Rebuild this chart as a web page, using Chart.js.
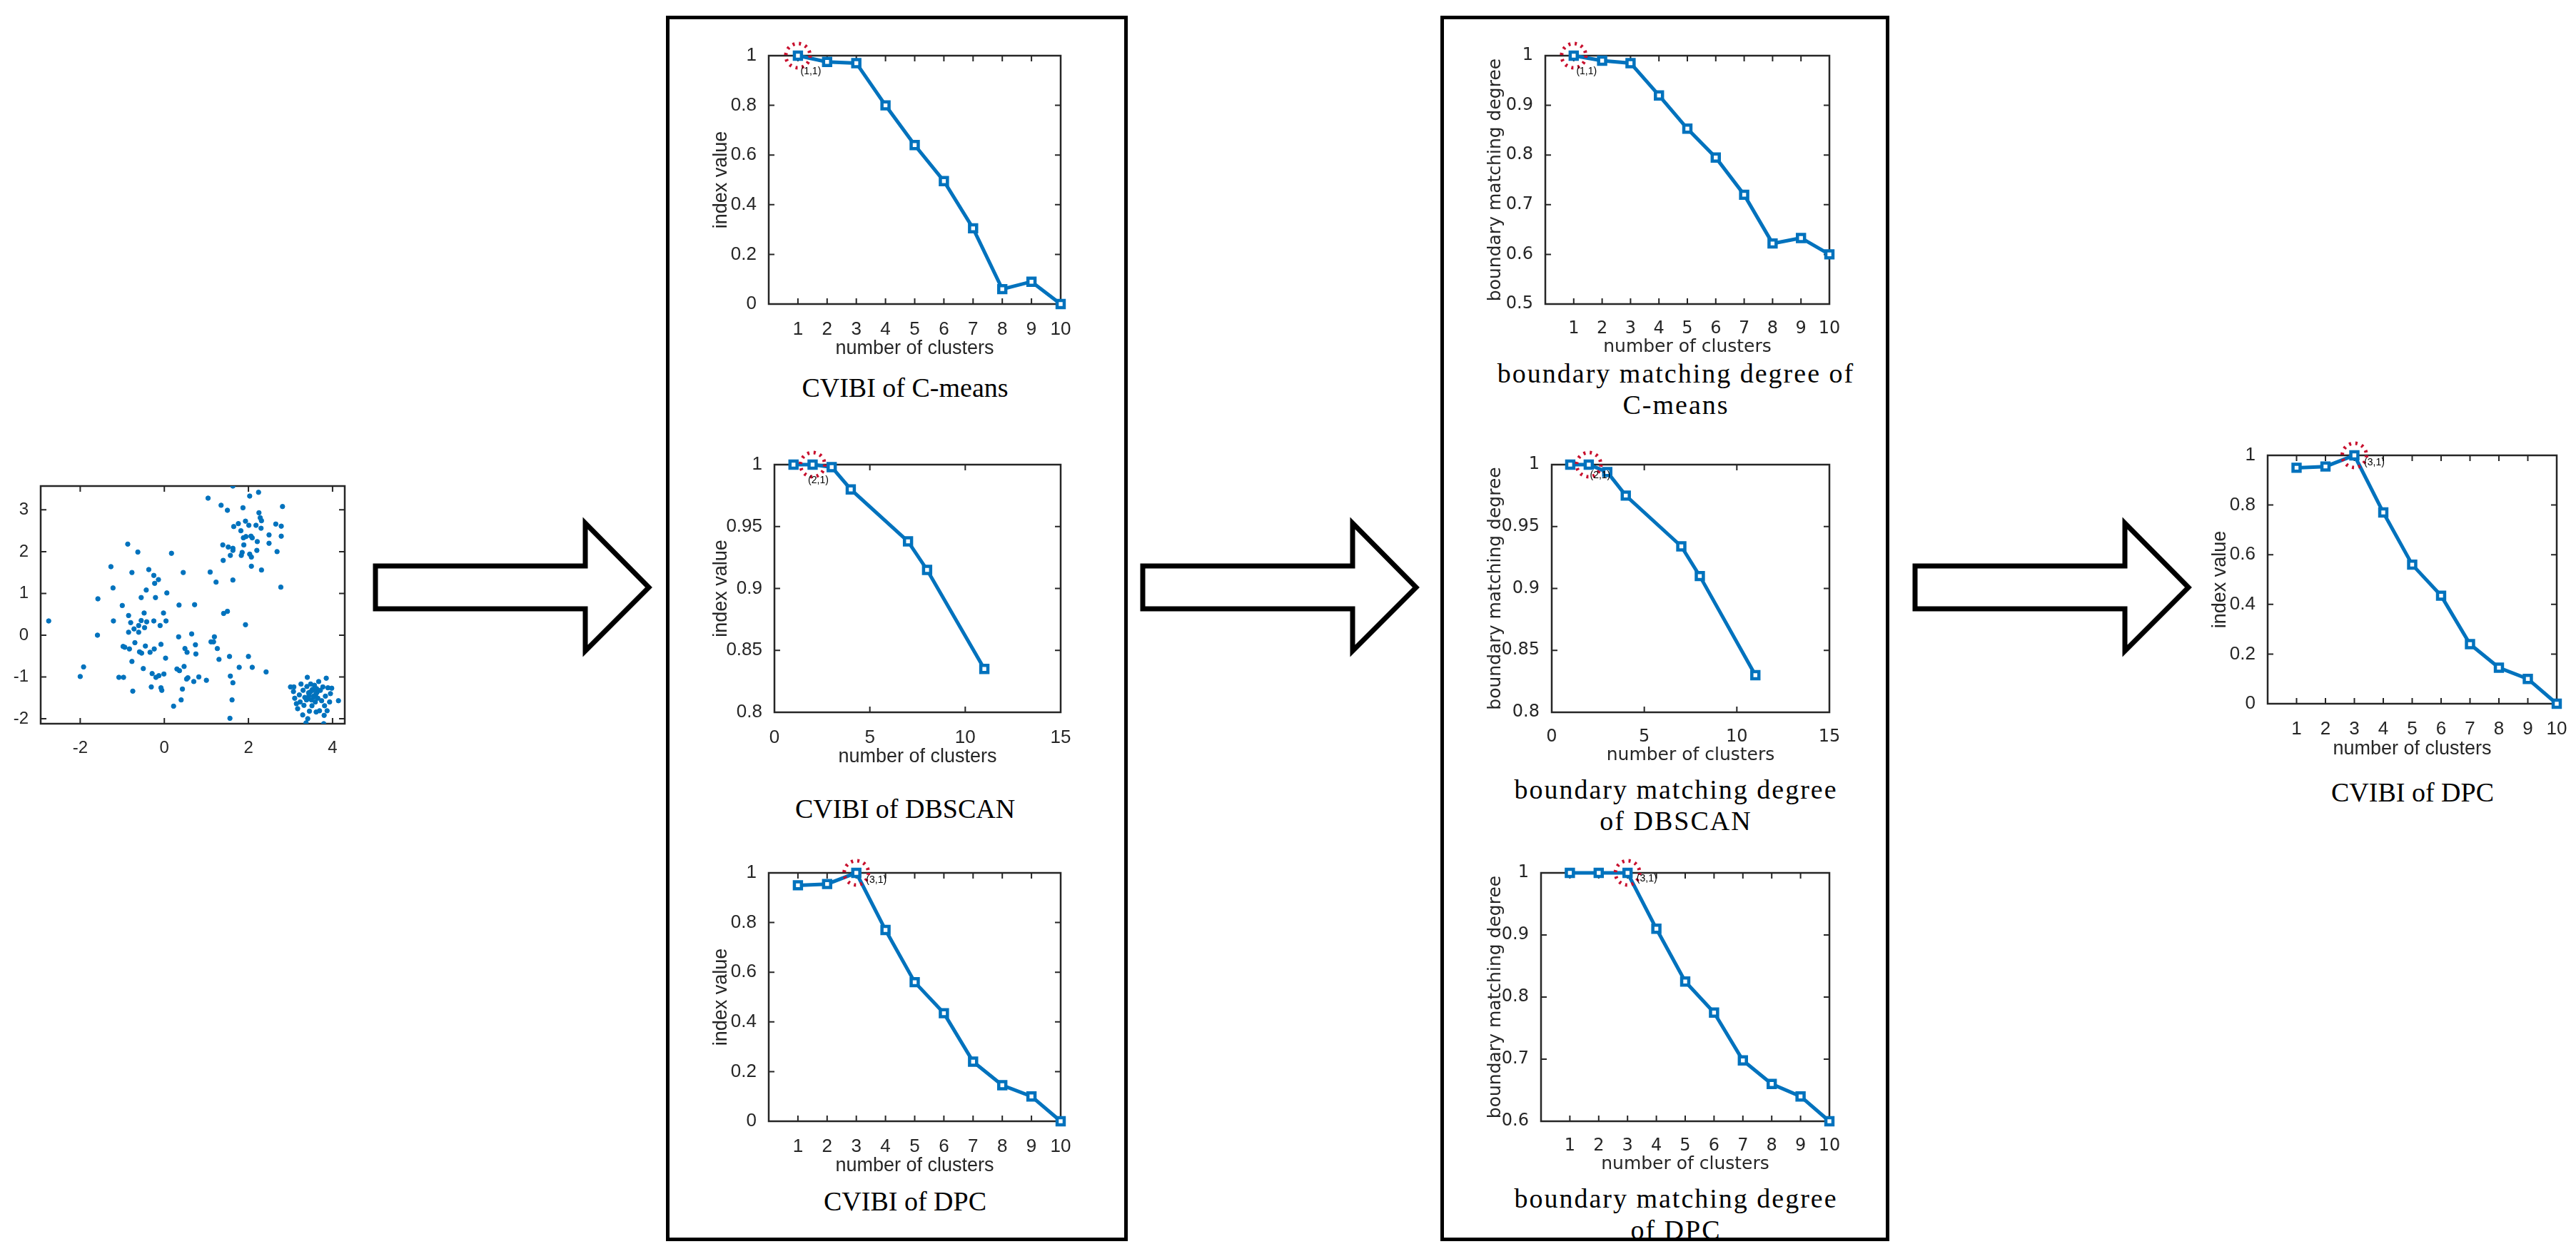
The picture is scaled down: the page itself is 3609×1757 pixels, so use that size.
<!DOCTYPE html>
<html><head><meta charset="utf-8">
<script src="https://cdn.jsdelivr.net/npm/chart.js@4.4.0/dist/chart.umd.min.js"></script>
<style>
  body { margin:0; width:3609px; height:1757px; background:#fff; position:relative; overflow:hidden; }
  canvas { position:absolute; }
  .box { position:absolute; border:5px solid #000; box-sizing:border-box; }
  .cap { position:absolute; transform:translate(-50%,-50%); font-family:"Liberation Serif",serif; font-size:38px; color:#000; white-space:nowrap; text-align:center; line-height:44px; }
  .cap.wide { letter-spacing:2px; }
  svg { position:absolute; left:0; top:0; }
</style></head>
<body>
<div class="box" style="left:933px;top:22px;width:647px;height:1717px"></div>
<div class="box" style="left:2018px;top:22px;width:629px;height:1717px"></div>
<svg width="3609" height="1757" id="arrows"></svg>
<div class="cap" style="left:1268px;top:543px">CVIBI of C-means</div>
<div class="cap" style="left:1268px;top:1133px">CVIBI of DBSCAN</div>
<div class="cap" style="left:1268px;top:1683px">CVIBI of DPC</div>
<div class="cap wide" style="left:2348px;top:545px">boundary matching degree of<br>C-means</div>
<div class="cap wide" style="left:2348px;top:1128px">boundary matching degree<br>of DBSCAN</div>
<div class="cap wide" style="left:2348px;top:1701px">boundary matching degree<br>of DPC</div>
<div class="cap" style="left:3380px;top:1110px">CVIBI of DPC</div>
<script>
// ---- data ----
const clusters10 = [1, 2, 3, 4, 5, 6, 7, 8, 9, 10];
const dbscanClusters = [1, 2, 3, 4, 7, 8, 11];
const cvibiCmeans = [1, 0.975, 0.97, 0.80, 0.64, 0.495, 0.305, 0.06, 0.09, 0];
const cvibiDbscan = [1, 1, 0.998, 0.98, 0.938, 0.915, 0.835];
const cvibiDpc = [0.95, 0.955, 1, 0.77, 0.56, 0.435, 0.24, 0.145, 0.10, 0];
const bmdCmeans = [1, 0.99, 0.985, 0.92, 0.853, 0.795, 0.72, 0.622, 0.633, 0.6];
const bmdDbscan = [1, 1, 0.994, 0.975, 0.934, 0.91, 0.83];
const bmdDpc = [1, 1, 1, 0.91, 0.825, 0.775, 0.698, 0.66, 0.64, 0.6];
const scatterX = [-2.75,-2,-1.92,-1.59,-1.58,-1.27,-1.22,-1.21,-1.08,-0.97,-1,-0.98,-0.94,-0.87,-0.85,-0.85,-0.83,-0.8,-0.77,-0.77,-0.75,-0.72,-0.7,
  -0.63,-0.61,-0.61,-0.59,-0.55,-0.55,-0.54,-0.5,-0.48,-0.47,-0.45,-0.43,-0.42,-0.37,-0.34,-0.31,-0.29,-0.25,-0.25,-0.24,-0.23,-0.21,-0.2,
  -0.14,-0.13,-0.1,-0.08,-0.08,-0.06,-0.02,-0.01,0.03,0.04,0.06,0.17,0.22,0.3,0.34,0.35,0.36,0.4,0.43,0.45,0.47,0.49,0.53,0.54,0.56,
  0.65,0.7,0.72,0.74,0.75,0.82,1,1.04,1.09,1.11,1.17,1.19,1.23,1.26,1.3,1.35,1.39,1.4,1.41,1.5,1.5,1.52,1.55,1.56,1.57,1.57,
  1.61,1.63,1.63,1.63,1.65,1.63,1.63,1.76,1.78,1.82,1.83,1.85,1.87,1.88,1.89,1.93,1.93,1.94,2,2.01,2.03,2.03,2.06,2.07,2.07,2.09,2.09,
  2.18,2.2,2.21,2.24,2.25,2.28,2.3,2.31,2.31,2.42,2.49,2.49,2.65,2.68,2.77,2.78,2.78,2.81,
  3,3.07,3.08,3.1,3.14,3.17,3.21,3.23,3.25,3.29,3.3,3.32,3.34,3.37,3.39,3.4,3.41,3.43,3.45,3.48,3.5,3.51,3.53,3.55,3.57,3.59,3.61,3.63,
  3.65,3.67,3.69,3.71,3.74,3.77,3.79,3.8,3.81,3.83,3.85,3.87,3.89,3.93,3.95,3.98,4.14,3.44,3.52,3.6,3.38,3.47,3.56,3.62,3.42];
const scatterY = [0.34,-0.99,-0.76,0,0.87,1.64,1.13,0.34,-1.01,-1.01,0.71,-0.27,-0.29,2.18,0.47,0.07,-0.33,0.3,1.5,-0.63,-1.34,0.15,-0.18,
  1.99,0.23,0.07,-0.4,0.9,0.35,-0.43,-0.8,0.53,0.18,-0.26,1.08,0.32,1.57,-0.41,-1.24,-0.92,1.43,0.34,-0.33,1.24,0.9,-1.01,
  1.33,-0.97,0.23,-0.22,-1.26,-1.32,0.53,-0.93,-0.55,0.34,1.01,1.96,-1.7,-0.81,-0.04,0.72,-0.85,-1.55,-1.29,1.5,-0.75,-0.32,-1.05,-0.41,-1.02,
  0.03,-1.11,0.73,-0.23,-0.45,-1,-1.08,3.28,1.51,-0.16,-0.16,-0.04,1.27,-0.32,-0.58,3.11,2.16,1.79,0.52,2.99,0.57,2.11,-0.51,-1.99,1.91,-0.98,
  -1.55,3.57,1.32,-1.14,2.6,2.08,2.03,2.67,-0.77,2.5,1.91,1.98,3.05,2.33,2.16,2.73,0.25,2.36,-0.51,2.63,3.33,1.94,2.37,1.87,1.65,-0.77,2.33,
  2.63,2.03,2.24,3.42,2.93,2.81,2.56,2.74,1.56,-0.88,2.4,2.2,2.66,2,1.15,2.61,2.37,3.08,
  -1.24,-1.35,-1.24,-1.51,-1.64,-1.76,-1.43,-1.6,-1.17,-1.91,-1.32,-1.68,-1.49,-2.1,-1.23,-1.01,-2,-1.38,-1.82,-1.17,-1.55,-1.69,-1.32,-1.46,-1.2,-1.6,-1.84,-1.37,
  -1.51,-1.11,-1.81,-1.32,-1.57,-1.24,-2.12,-1.92,-1.69,-1.46,-1.03,-1.81,-1.26,-1.6,-1.4,-1.27,-1.57,-1.45,-1.3,-1.42,-1.55,-1.36,-1.48,-1.28,-1.52];

const BLUE = '#0072BD';
const AX = '#262626';

// arrows
const arrowXs = [526, 1601, 2683];
document.getElementById('arrows').innerHTML = arrowXs.map(x0 =>
  `<polygon points="${x0},793 ${x0+294},793 ${x0+294},733 ${x0+383},823 ${x0+294},912 ${x0+294},853 ${x0},853" fill="#fff" stroke="#000" stroke-width="7" stroke-linejoin="miter"/>`).join('');

// MATLAB-like box, inward ticks, axis titles, highlighted point
const matlabPlugin = {
  id: 'matlab',
  beforeDatasetsDraw(chart, args, o) {
    const { ctx, chartArea: a, scales } = chart;
    ctx.save();
    ctx.strokeStyle = AX; ctx.lineWidth = 2.5;
    ctx.strokeRect(a.left, a.top, a.right - a.left, a.bottom - a.top);
    ctx.lineWidth = 2;
    const tl = 8;
    scales.x.ticks.forEach(t => {
      const px = scales.x.getPixelForValue(t.value);
      ctx.beginPath(); ctx.moveTo(px, a.bottom); ctx.lineTo(px, a.bottom - tl);
      ctx.moveTo(px, a.top); ctx.lineTo(px, a.top + tl); ctx.stroke();
    });
    scales.y.ticks.forEach(t => {
      const py = scales.y.getPixelForValue(t.value);
      ctx.beginPath(); ctx.moveTo(a.left, py); ctx.lineTo(a.left + tl, py);
      ctx.moveTo(a.right, py); ctx.lineTo(a.right - tl, py); ctx.stroke();
    });
    ctx.restore();
  },
  afterDraw(chart, args, o) {
    const { ctx, chartArea: a } = chart;
    ctx.save();
    ctx.fillStyle = AX;
    ctx.font = o.titleFont || '27px "Liberation Sans", Arial, sans-serif';
    ctx.textAlign = 'center'; ctx.textBaseline = 'middle';
    if (o.xTitle) ctx.fillText(o.xTitle, (a.left + a.right) / 2, a.bottom + o.xTitleGap);
    if (o.yTitle) {
      ctx.translate(a.left - o.yTitleGap, (a.top + a.bottom) / 2);
      ctx.rotate(-Math.PI / 2);
      ctx.fillText(o.yTitle, 0, 0);
    }
    ctx.restore();
    if (o.mark != null) {
      const el = chart.getDatasetMeta(0).data[o.mark];
      ctx.save();
      ctx.strokeStyle = '#C8102E'; ctx.lineWidth = 5; ctx.setLineDash([3, 6]);
      ctx.beginPath(); ctx.arc(el.x, el.y, 17, 0, Math.PI * 2); ctx.stroke();
      ctx.setLineDash([]);
      ctx.fillStyle = '#000'; ctx.font = '14px "Liberation Sans", Arial, sans-serif';
      ctx.textAlign = 'center'; ctx.textBaseline = 'middle';
      ctx.fillText(o.markLabel, el.x + o.markDx, el.y + o.markDy);
      ctx.restore();
    }
  }
};

function makeChart(rect, cfg) {
  const L = 120, R = 45, T = 35, B = 110;
  const cv = document.createElement('canvas');
  cv.width = rect.w + L + R; cv.height = rect.h + T + B;
  cv.style.left = (rect.x - L) + 'px'; cv.style.top = (rect.y - T) + 'px';
  cv.style.width = cv.width + 'px'; cv.style.height = cv.height + 'px';
  document.body.appendChild(cv);
  const tickFont = { family: cfg.fontFamily || '"Liberation Sans", Arial, sans-serif', size: cfg.tickSize || 26 };
  const fixTicks = vals => s => { s.ticks = vals.map(v => ({ value: v })); };
  new Chart(cv, {
    type: cfg.type || 'line',
    data: { datasets: [cfg.dataset] },
    options: {
      responsive: false, animation: false, devicePixelRatio: 1,
      layout: { padding: { top: T, right: R, left: 0, bottom: 0 } },
      plugins: { legend: { display: false }, tooltip: { enabled: false }, matlab: cfg.deco },
      scales: {
        x: { type: 'linear', min: cfg.xMin, max: cfg.xMax, afterBuildTicks: fixTicks(cfg.xTicks),
             afterFit: s => { s.height = B; },
             grid: { display: false }, border: { display: false },
             ticks: { color: AX, font: tickFont, padding: 12, maxRotation: 0, autoSkip: false, callback: v => String(v) } },
        y: { min: cfg.yMin, max: cfg.yMax, afterBuildTicks: fixTicks(cfg.yTicks),
             afterFit: s => { s.width = L; },
             grid: { display: false }, border: { display: false },
             ticks: { color: AX, font: tickFont, padding: 9, autoSkip: false, callback: v => String(+v.toFixed(2)) } }
      }
    },
    plugins: [matlabPlugin]
  });
}

function lineSet(xs, ys) {
  return { data: xs.map((x, i) => ({ x, y: ys[i] })), borderColor: BLUE, borderWidth: 5,
    pointStyle: 'rect', pointRadius: 7, pointBorderWidth: 4.5, pointBackgroundColor: '#fff', pointBorderColor: BLUE, clip: false };
}

const ticks10 = [1, 2, 3, 4, 5, 6, 7, 8, 9, 10];
const ticks15 = [0, 5, 10, 15];
const serifSans = '"DejaVu Sans", sans-serif';

// scatter
makeChart({ x: 57, y: 681, w: 426, h: 333 }, {
  type: 'scatter',
  dataset: { data: scatterX.map((x, i) => ({ x, y: scatterY[i] })), backgroundColor: BLUE, borderColor: BLUE, pointRadius: 3.2, pointStyle: 'circle' },
  xMin: -2.94, xMax: 4.29, xTicks: [-2, 0, 2, 4], yMin: -2.12, yMax: 3.57, yTicks: [-2, -1, 0, 1, 2, 3], tickSize: 24,
  deco: {}
});

const xT = 'number of clusters';
makeChart({ x: 1077, y: 78, w: 409, h: 348 }, {
  dataset: lineSet(clusters10, cvibiCmeans), xMin: 0, xMax: 10, xTicks: ticks10,
  yMin: 0, yMax: 1, yTicks: [0, 0.2, 0.4, 0.6, 0.8, 1],
  deco: { xTitle: xT, xTitleGap: 63, yTitle: 'index value', yTitleGap: 66, mark: 0, markLabel: '(1,1)', markDx: 18, markDy: 22 }
});
makeChart({ x: 1085, y: 651, w: 401, h: 347 }, {
  dataset: lineSet(dbscanClusters, cvibiDbscan), xMin: 0, xMax: 15, xTicks: ticks15,
  yMin: 0.8, yMax: 1, yTicks: [0.8, 0.85, 0.9, 0.95, 1],
  deco: { xTitle: xT, xTitleGap: 63, yTitle: 'index value', yTitleGap: 74, mark: 1, markLabel: '(2,1)', markDx: 8, markDy: 22 }
});
makeChart({ x: 1077, y: 1223, w: 409, h: 348 }, {
  dataset: lineSet(clusters10, cvibiDpc), xMin: 0, xMax: 10, xTicks: ticks10,
  yMin: 0, yMax: 1, yTicks: [0, 0.2, 0.4, 0.6, 0.8, 1],
  deco: { xTitle: xT, xTitleGap: 63, yTitle: 'index value', yTitleGap: 66, mark: 2, markLabel: '(3,1)', markDx: 28, markDy: 10 }
});
makeChart({ x: 2165, y: 78, w: 398, h: 348 }, {
  dataset: lineSet(clusters10, bmdCmeans), xMin: 0, xMax: 10, xTicks: ticks10,
  yMin: 0.5, yMax: 1, yTicks: [0.5, 0.6, 0.7, 0.8, 0.9, 1], fontFamily: serifSans, tickSize: 24,
  deco: { xTitle: xT, xTitleGap: 60, yTitle: 'boundary matching degree', yTitleGap: 70, titleFont: '25px "DejaVu Sans", sans-serif', mark: 0, markLabel: '(1,1)', markDx: 18, markDy: 22 }
});
makeChart({ x: 2174, y: 651, w: 389, h: 347 }, {
  dataset: lineSet(dbscanClusters, bmdDbscan), xMin: 0, xMax: 15, xTicks: ticks15,
  yMin: 0.8, yMax: 1, yTicks: [0.8, 0.85, 0.9, 0.95, 1], fontFamily: serifSans, tickSize: 24,
  deco: { xTitle: xT, xTitleGap: 60, yTitle: 'boundary matching degree', yTitleGap: 79, titleFont: '25px "DejaVu Sans", sans-serif', mark: 1, markLabel: '(2,1)', markDx: 16, markDy: 15 }
});
makeChart({ x: 2159, y: 1223, w: 404, h: 348 }, {
  dataset: lineSet(clusters10, bmdDpc), xMin: 0, xMax: 10, xTicks: ticks10,
  yMin: 0.6, yMax: 1, yTicks: [0.6, 0.7, 0.8, 0.9, 1], fontFamily: serifSans, tickSize: 24,
  deco: { xTitle: xT, xTitleGap: 60, yTitle: 'boundary matching degree', yTitleGap: 64, titleFont: '25px "DejaVu Sans", sans-serif', mark: 2, markLabel: '(3,1)', markDx: 27, markDy: 8 }
});
makeChart({ x: 3177, y: 638, w: 405, h: 348 }, {
  dataset: lineSet(clusters10, cvibiDpc), xMin: 0, xMax: 10, xTicks: ticks10,
  yMin: 0, yMax: 1, yTicks: [0, 0.2, 0.4, 0.6, 0.8, 1],
  deco: { xTitle: xT, xTitleGap: 64, yTitle: 'index value', yTitleGap: 66, mark: 2, markLabel: '(3,1)', markDx: 28, markDy: 10 }
});
</script>
</body></html>
